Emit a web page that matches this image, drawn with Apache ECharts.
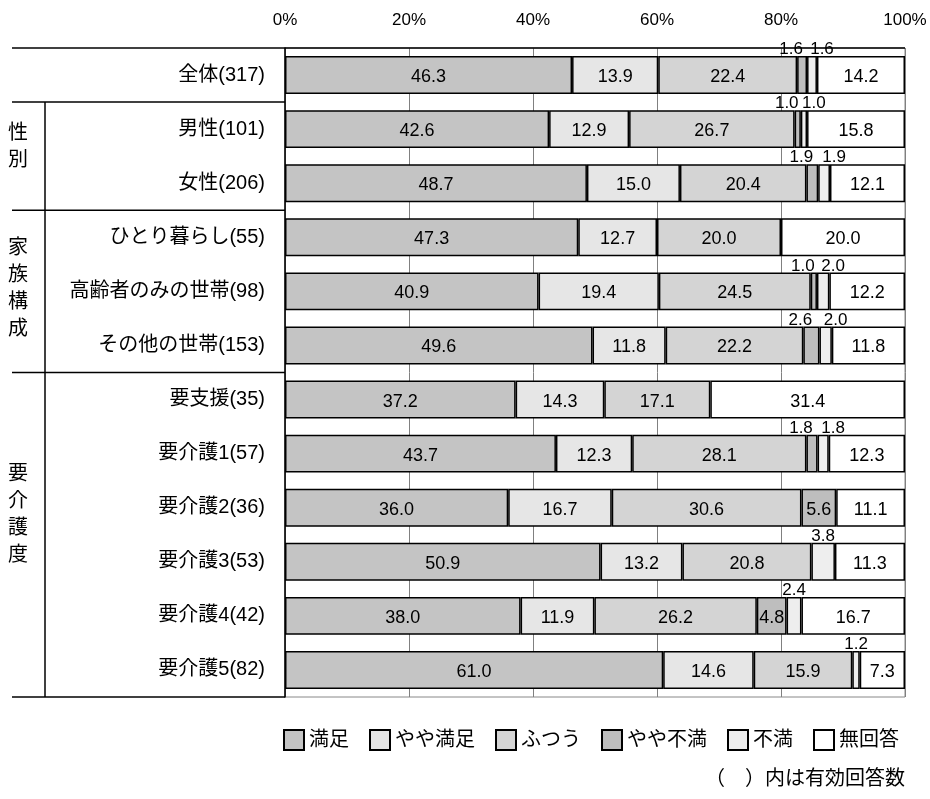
<!DOCTYPE html>
<html>
<head>
<meta charset="utf-8">
<script src="https://cdn.jsdelivr.net/npm/echarts@6/dist/echarts.min.js"></script>
<style>
html,body{margin:0;padding:0;background:#fff;}
#main{width:930px;height:799px;}
</style>
</head>
<body>
<div id="main"></div>
<script>
const categories = ['全体(317)','男性(101)','女性(206)','ひとり暮らし(55)','高齢者のみの世帯(98)','その他の世帯(153)','要支援(35)','要介護1(57)','要介護2(36)','要介護3(53)','要介護4(42)','要介護5(82)'];
const seriesNames = ['満足','やや満足','ふつう','やや不満','不満','無回答'];
const manzoku     = [46.3,42.6,48.7,47.3,40.9,49.6,37.2,43.7,36.0,50.9,38.0,61.0];
const yayaManzoku = [13.9,12.9,15.0,12.7,19.4,11.8,14.3,12.3,16.7,13.2,11.9,14.6];
const futsuu      = [22.4,26.7,20.4,20.0,24.5,22.2,17.1,28.1,30.6,20.8,26.2,15.9];
const yayaFuman   = [1.6,1.0,1.9,0,1.0,2.6,0,1.8,5.6,0,4.8,0];
const fuman       = [1.6,1.0,1.9,0,2.0,2.0,0,1.8,0,3.8,2.4,1.2];
const mukaitou    = [14.2,15.8,12.1,20.0,12.2,11.8,31.4,12.3,11.1,11.3,16.7,7.3];
const tickLabels  = ['0%','20%','40%','60%','80%','100%'];
const groupLabels = ['性\n別','家\n族\n構\n成','要\n介\n護\n度'];

const FONT = "'Liberation Sans','Noto Sans CJK JP',sans-serif";
const colors = ['#c4c4c4','#e6e6e6','#d4d4d4','#bebebe','#eeeeee','#ffffff'];
const allValues = [manzoku,yayaManzoku,futsuu,yayaFuman,fuman,mukaitou];
const SMALL = 4;

const GRID = {left:285, right:25, top:48, bottom:102};
const W = 930, H = 799;
const plotH = H - GRID.top - GRID.bottom;
const rowH = plotH / categories.length;

function buildData(si){
  return allValues[si].map((v,ri)=>{
    if(v === 0) return {value:'-'};
    const item = {value:v};
    if(v < SMALL){
      let off = 0;
      if(si === 3 && fuman[ri] > 0 && fuman[ri] < SMALL) off = -11;
      if(si === 4 && yayaFuman[ri] > 0 && yayaFuman[ri] < SMALL) off = 10;
      item.label = {position:'top', distance:0, offset:[off,2], fontSize:17};
    }
    return item;
  });
}

const series = seriesNames.map((name,si)=>({
  name:name,
  type:'bar',
  stack:'total',
  barCategoryGap:'30%',
  data:buildData(si),
  itemStyle:{color:colors[si], borderColor:'#000', borderWidth:1.5},
  label:{
    show:true,
    position:'inside',
    offset:[0,2],
    color:'#000',
    fontSize:18,
    fontFamily:FONT,
    formatter:p=> (typeof p.value === 'number') ? p.value.toFixed(1) : ''
  },
  emphasis:{disabled:true}
}));

const lines = [];
const L = {x0:12, x1:GRID.left, vx:45};
function hline(y, x0, x1, color){
  lines.push({type:'line', shape:{x1:x0,y1:y,x2:x1,y2:y}, style:{stroke:color||'#000', lineWidth:1.5}, z:100});
}
hline(GRID.top, L.x0, W-GRID.right);
[1,3,6,12].forEach(k=>hline(GRID.top + k*rowH, L.x0, L.x1));
lines.push({type:'line', shape:{x1:L.vx,y1:GRID.top+rowH,x2:L.vx,y2:GRID.top+12*rowH}, style:{stroke:'#000',lineWidth:1.5}, z:100});

const groupCenters = [147, 289, 515];
groupLabels.forEach((t,i)=>{
  lines.push({type:'text', x:18, y:groupCenters[i], style:{text:t, fontSize:20, fontFamily:FONT, fill:'#000', align:'center', verticalAlign:'middle', lineHeight:27}});
});
lines.push({type:'text', right:GRID.right, top:769, style:{text:'（　）内は有効回答数', fontSize:20, fontFamily:FONT, fill:'#000'}});

const chart = echarts.init(document.getElementById('main'));
chart.setOption({
  animation:false,
  backgroundColor:'#fff',
  textStyle:{fontFamily:FONT},
  grid:{left:GRID.left, right:GRID.right, top:GRID.top, bottom:GRID.bottom, show:true, borderColor:'#888', borderWidth:1},
  legend:{
    data:seriesNames,
    right:26,
    top:724,
    itemWidth:20,
    itemHeight:20,
    itemGap:20,
    icon:'rect',
    itemStyle:{borderWidth:2, borderColor:'#000'},
    textStyle:{fontSize:20, color:'#000', fontFamily:FONT},
    selectedMode:false
  },
  xAxis:{
    type:'value',
    position:'top',
    min:0, max:100, interval:20,
    axisLine:{show:false},
    axisTick:{show:false},
    axisLabel:{color:'#000', fontSize:17, margin:19, fontFamily:FONT,
      formatter:(v)=>tickLabels[Math.round(v/20)]},
    splitLine:{show:true, lineStyle:{color:'#808080', width:1}}
  },
  yAxis:{
    type:'category',
    inverse:true,
    data:categories,
    axisLine:{show:true, lineStyle:{color:'#000', width:1.5}},
    axisTick:{show:false},
    axisLabel:{color:'#000', fontSize:20, margin:20, fontFamily:FONT, padding:[7,0,0,0]}
  },
  series:series,
  graphic:lines
});
</script>
</body>
</html>
